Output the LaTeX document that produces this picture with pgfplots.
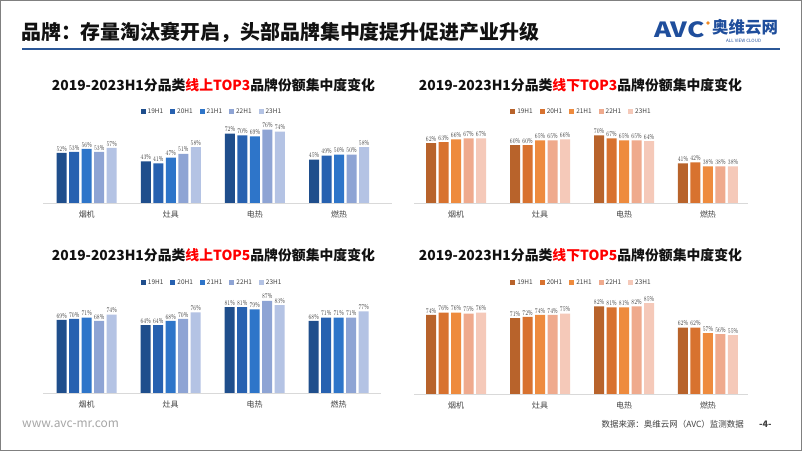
\documentclass[border=0pt]{standalone}
\usepackage{pgfplots}
\pgfplotsset{compat=1.18}
\usepackage{fontspec}
\setmainfont{Noto Sans CJK SC}
\definecolor{bA}{HTML}{1F4E8C}
\definecolor{bB}{HTML}{2761B0}
\definecolor{bC}{HTML}{2E75C9}
\definecolor{bD}{HTML}{8EA4D4}
\definecolor{bE}{HTML}{B4C3E4}
\definecolor{oA}{HTML}{B8632B}
\definecolor{oB}{HTML}{D8722F}
\definecolor{oC}{HTML}{EE8B3E}
\definecolor{oD}{HTML}{EFAA8D}
\definecolor{oE}{HTML}{F5C9B9}
\definecolor{labgray}{HTML}{404040}
\definecolor{axisgray}{HTML}{D9D9D9}
\definecolor{titleblue}{HTML}{2B5797}
\definecolor{logoblue}{HTML}{1F4E9C}
\definecolor{logoorange}{HTML}{F08A24}
\definecolor{ttl}{HTML}{111111}

\pgfplotstableread{
x a b c d e
0 52 53 56 53 57
1 43 41 47 51 58
2 72 70 69 76 74
3 45 49 50 50 58
}\onA
\pgfplotstableread{
x a b c d e
0 62 63 66 67 67
1 60 60 65 65 66
2 70 67 65 65 64
3 41 42 38 38 38
}\offA
\pgfplotstableread{
x a b c d e
0 69 70 71 68 74
1 64 64 68 70 76
2 81 81 79 87 83
3 68 71 71 71 77
}\onB
\pgfplotstableread{
x a b c d e
0 74 76 76 75 76
1 71 72 74 74 75
2 82 81 81 82 85
3 62 62 57 56 55
}\offB

\pgfplotsset{
  panel/.style={
    scale only axis, anchor=south west,
    ybar=2.5bp, bar width=10bp,
    ymin=0, ymax=100,
    axis x line=bottom, axis y line=none,
    axis line style={-},
    x axis line style={draw=axisgray, line width=0.7bp},
    xtick={0,1,2,3}, xticklabels={烟机,灶具,电热,燃热},
    major tick length=0pt,
    xticklabel style={font=\fontsize{8}{8}\selectfont, text=labgray, yshift=-4bp},
    ytick=\empty,
    nodes near coords={\scalebox{0.72}[1]{\pgfmathprintnumber{\pgfplotspointmeta}\%}},
    nodes near coords style={font=\fontsize{6.8}{6.8}\selectfont, text=labgray, inner xsep=0.2bp, inner ysep=1.5bp},
    legend columns=5,
    legend style={draw=none, fill=none, font=\fontsize{6.5}{6.5}\selectfont, text=labgray, anchor=center, inner sep=0pt,
      /tikz/every even column/.append style={column sep=5bp}},
    legend image code/.code={\fill[##1] (0bp,-2.5bp) rectangle (5bp,2.5bp);},
    clip=false,
  },
}

\begin{document}
\begin{tikzpicture}[x=1bp,y=1bp]
\useasboundingbox (0,0) rectangle (802,451);
\fill[white] (0,0) rectangle (802,451);
\draw[gray, line width=1bp] (0.5,0.5) rectangle (801.5,450.5);

% header
\node[anchor=west, text=ttl, font=\bfseries\fontsize{20}{20}\selectfont, inner sep=0pt] at (21,419) {品牌：存量淘汰赛开启，头部品牌集中度提升促进产业升级};
\draw[titleblue, line width=2bp] (22,402) -- (780,402);
\node[anchor=west, text=logoblue, font=\bfseries\itshape\fontsize{21}{21}\selectfont, inner sep=0pt] at (654,421) {\scalebox{1.25}[1]{AVC}};
\fill[logoorange] (708,428) circle (1.8);
\node[anchor=west, text=logoblue, font=\bfseries\fontsize{16.5}{16.5}\selectfont, inner sep=0pt] at (712,424) {奥维云网};
\node[anchor=west, text=logoblue, font=\fontsize{4.5}{4.5}\selectfont, inner sep=0pt] at (726,410) {ALL VIEW CLOUD};

% panel titles
\node[text=ttl, font=\bfseries\fontsize{13.9}{13.9}\selectfont] at (213.5,366) {2019-2023H1分品类\textcolor{red}{线上TOP3}品牌份额集中度变化};
\node[text=ttl, font=\bfseries\fontsize{13.9}{13.9}\selectfont] at (580.5,366) {2019-2023H1分品类\textcolor{red}{线下TOP3}品牌份额集中度变化};
\node[text=ttl, font=\bfseries\fontsize{13.9}{13.9}\selectfont] at (213.5,196) {2019-2023H1分品类\textcolor{red}{线上TOP5}品牌份额集中度变化};
\node[text=ttl, font=\bfseries\fontsize{13.9}{13.9}\selectfont] at (580.5,196) {2019-2023H1分品类\textcolor{red}{线下TOP5}品牌份额集中度变化};

% panel 1
\begin{axis}[panel, at={(43bp,248bp)}, width=349bp, height=96.5bp, xmin=-0.52, xmax=3.63,
  legend style={at={(axis description cs:0.484,0.943)}}]
\addplot[fill=bA, draw=none] table[x=x,y=a] {\onA};
\addplot[fill=bB, draw=none] table[x=x,y=b] {\onA};
\addplot[fill=bC, draw=none] table[x=x,y=c] {\onA};
\addplot[fill=bD, draw=none] table[x=x,y=d] {\onA};
\addplot[fill=bE, draw=none] table[x=x,y=e] {\onA};
\legend{19H1,20H1,21H1,22H1,23H1}
\end{axis}

% panel 2
\begin{axis}[panel, at={(414bp,248bp)}, width=334.3bp, height=96.5bp, xmin=-0.5, xmax=3.48,
  legend style={at={(axis description cs:0.501,0.943)}}]
\addplot[fill=oA, draw=none] table[x=x,y=a] {\offA};
\addplot[fill=oB, draw=none] table[x=x,y=b] {\offA};
\addplot[fill=oC, draw=none] table[x=x,y=c] {\offA};
\addplot[fill=oD, draw=none] table[x=x,y=d] {\offA};
\addplot[fill=oE, draw=none] table[x=x,y=e] {\offA};
\legend{19H1,20H1,21H1,22H1,23H1}
\end{axis}

% panel 3
\begin{axis}[panel, at={(43bp,58bp)}, width=337.7bp, height=106bp, xmin=-0.52, xmax=3.5,
  legend style={at={(axis description cs:0.501,1.04)}}]
\addplot[fill=bA, draw=none] table[x=x,y=a] {\onB};
\addplot[fill=bB, draw=none] table[x=x,y=b] {\onB};
\addplot[fill=bC, draw=none] table[x=x,y=c] {\onB};
\addplot[fill=bD, draw=none] table[x=x,y=d] {\onB};
\addplot[fill=bE, draw=none] table[x=x,y=e] {\onB};
\legend{19H1,20H1,21H1,22H1,23H1}
\end{axis}

% panel 4
\begin{axis}[panel, at={(414bp,57bp)}, width=334.3bp, height=107bp, xmin=-0.5, xmax=3.48,
  legend style={at={(axis description cs:0.501,1.04)}}]
\addplot[fill=oA, draw=none] table[x=x,y=a] {\offB};
\addplot[fill=oB, draw=none] table[x=x,y=b] {\offB};
\addplot[fill=oC, draw=none] table[x=x,y=c] {\offB};
\addplot[fill=oD, draw=none] table[x=x,y=d] {\offB};
\addplot[fill=oE, draw=none] table[x=x,y=e] {\offB};
\legend{19H1,20H1,21H1,22H1,23H1}
\end{axis}

% footer
\node[anchor=west, text=gray!70, font=\fontsize{12}{12}\selectfont, inner sep=0pt] at (22,27) {www.avc-mr.com};
\node[anchor=east, text=labgray, font=\fontsize{8.5}{8.5}\selectfont, inner sep=0pt] at (744,27) {数据来源：奥维云网（AVC）监测数据};
\node[anchor=west, text=labgray, font=\bfseries\fontsize{9}{9}\selectfont, inner sep=0pt] at (759,27) {-4-};
\end{tikzpicture}
\end{document}
